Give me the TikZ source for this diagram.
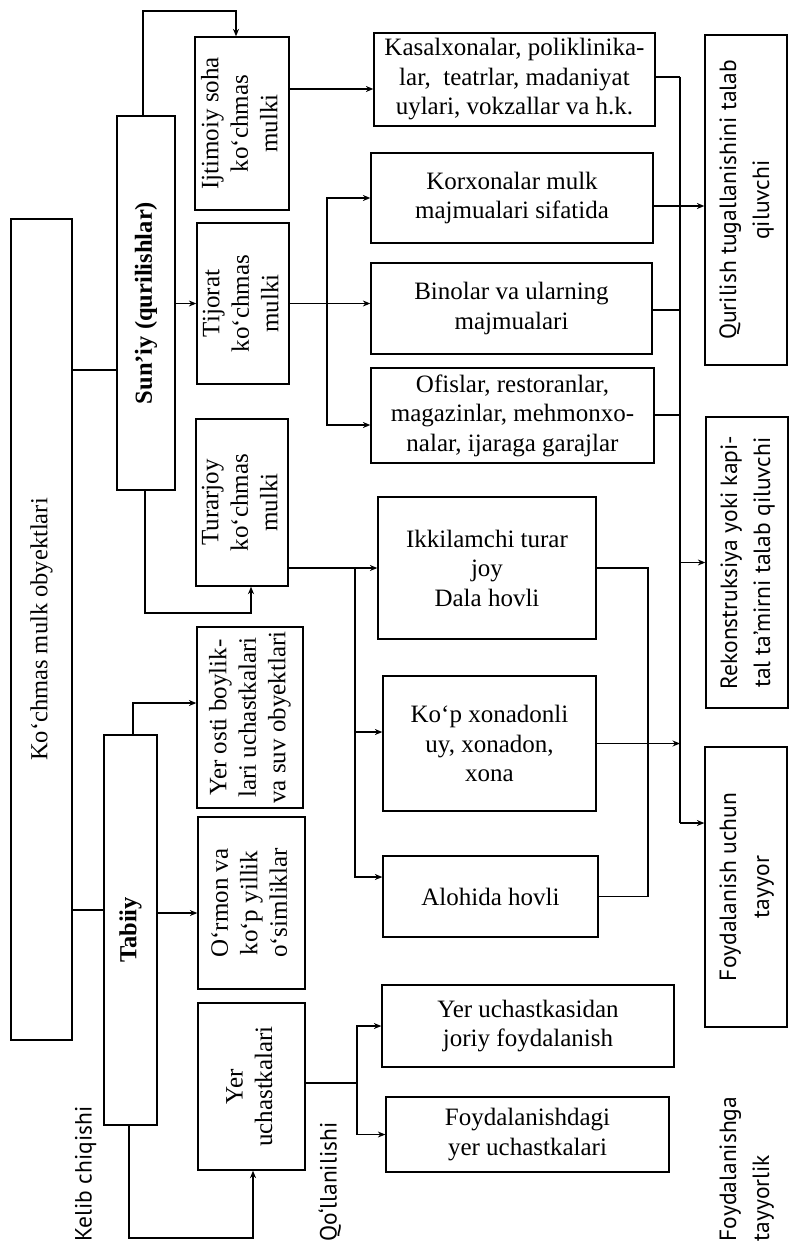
\documentclass[tikz,border=0pt]{standalone}
\usepackage{graphicx}
\usepackage{fontspec}
\setmainfont{Liberation Serif}
\newfontfamily\labfont{PT Sans}
\usetikzlibrary{arrows.meta}
\newcommand{\vt}[1]{\rotatebox{90}{\begin{tabular}{@{}c@{}}#1\end{tabular}}}
\newcommand{\vtl}[1]{\rotatebox{90}{\begin{tabular}{@{}l@{}}#1\end{tabular}}}
\tikzset{
  box/.style={draw, line width=1.3pt, inner sep=0pt, align=center, font=\fontsize{25}{29.5}\selectfont},
  tbox/.style={box, line width=2.6pt},
  sbox/.style={box, font={\labfont\fontsize{23.5}{33}\selectfont}},
  lab/.style={inner sep=0pt, font={\labfont\fontsize{23.5}{33}\selectfont}},
  arr/.style={line width=1.1pt, -{Stealth[length=7.5pt,width=6pt]}},
  ln/.style={line width=1.1pt}
}
\begin{document}
\begin{tikzpicture}[x=1pt,y=-1pt]
\useasboundingbox (0,0) rectangle (789,1244);
% left column
\node[tbox, minimum width=61pt, minimum height=821pt] (main) at (41.5,629.5) {\vt{\fontsize{24.5}{29}\selectfont Ko‘chmas mulk obyektlari}};
\node[tbox, minimum width=58pt, minimum height=374pt] (sun) at (146,303) {\vt{\fontsize{24.5}{29}\selectfont\bfseries Sun’iy (qurilishlar)}};
\node[tbox, minimum width=53pt, minimum height=390pt] (tab) at (130.5,930) {\vt{\fontsize{24.5}{29}\selectfont\bfseries Tabiiy}};
% second column
\node[box, minimum width=94pt, minimum height=173pt] (ijt) at (242,123.5) {\vt{Ijtimoiy soha\\ko‘chmas\\mulki}};
\node[box, minimum width=92pt, minimum height=161pt] (tij) at (243,303.5) {\vt{Tijorat\\ko‘chmas\\mulki}};
\node[box, minimum width=92pt, minimum height=167pt] (tur) at (242,502.5) {\vt{Turarjoy\\ko‘chmas\\mulki}};
\node[box, minimum width=106pt, minimum height=181pt] (yos) at (250,717.5) {\vt{Yer osti boylik-\\lari uchastkalari\\va suv obyektlari}};
\node[box, minimum width=107pt, minimum height=172pt] (orm) at (251.5,903) {\vt{O‘rmon va\\ko‘p yillik\\o‘simliklar}};
\node[box, minimum width=107pt, minimum height=167pt] (yer) at (251.5,1086.5) {\vt{Yer\\uchastkalari}};
% third column
\node[box, minimum width=281pt, minimum height=93pt] (kas) at (514.5,79.5) {Kasalxonalar, poliklinika-\\lar, \ teatrlar, madaniyat\\uylari, vokzallar va h.k.};
\node[box, minimum width=282pt, minimum height=90pt] (kor) at (512,198) {Korxonalar mulk\\majmualari sifatida};
\node[box, minimum width=281pt, minimum height=91pt] (bin) at (511.5,308.5) {Binolar va ularning\\majmualari};
\node[box, minimum width=283pt, minimum height=95pt] (ofi) at (512.5,415.5) {Ofislar, restoranlar,\\magazinlar, mehmonxo-\\nalar, ijaraga garajlar};
\node[box, minimum width=218pt, minimum height=142pt] (ikk) at (487,568) {Ikkilamchi turar\\joy\\Dala hovli};
\node[box, minimum width=213pt, minimum height=135pt] (kop) at (489.5,743.5) {Ko‘p xonadonli\\uy, xonadon,\\xona};
\node[box, minimum width=215pt, minimum height=81pt] (alo) at (490.5,896.5) {Alohida hovli};
\node[box, minimum width=292pt, minimum height=82pt] (yuc) at (528,1026) {Yer uchastkasidan\\joriy foydalanish};
\node[box, minimum width=283pt, minimum height=75pt] (fdg) at (527.5,1134.5) {Foydalanishdagi\\yer uchastkalari};
% right column
\node[sbox, minimum width=82pt, minimum height=330pt] (qur) at (746,200) {\vt{Qurilish tugallanishini talab\\qiluvchi}};
\node[sbox, minimum width=82pt, minimum height=291pt] (rek) at (747,562.5) {\vt{Rekonstruksiya yoki kapi-\\tal ta’mirni talab qiluvchi}};
\node[sbox, minimum width=82pt, minimum height=280pt] (fut) at (746,887) {\vt{Foydalanish uchun\\tayyor}};
% labels
\node[lab] (kel) at (85,1174) {\vt{Kelib chiqishi}};
\node[lab] (qol) at (330,1182) {\vt{Qo‘llanilishi}};
\node[lab] (fgt) at (746,1169) {\vtl{Foydalanishga\\tayyorlik}};
% helper coordinates
\coordinate (ya) at (0,11);
\coordinate (yb) at (0,613);
\coordinate (yc) at (0,370);
\coordinate (yd) at (0,910);
\coordinate (ye) at (0,703);
\coordinate (yf) at (0,913);
\coordinate (yg) at (0,1238);
\coordinate (yh) at (0,89);
\coordinate (yi) at (0,425);
\coordinate (yj) at (0,732);
\coordinate (yk) at (0,877);
\coordinate (yl) at (0,1083);
\coordinate (y77) at (0,77);
\coordinate (y206) at (0,206);
\coordinate (y310) at (0,310);
\coordinate (y415) at (0,415);
\coordinate (y823) at (0,823);
\coordinate (tx) at (327,0);
\coordinate (ux) at (355,0);
\coordinate (vx) at (357,0);
\coordinate (wx) at (680,0);
\coordinate (zx) at (648,0);
% connectors, left part
\draw[ln] (main.east |- yc) -- (sun.west |- yc);
\draw[ln] (main.east |- yd) -- (tab.west |- yd);
\draw[arr] ([xshift=-3pt]sun.north) -- ([xshift=-3pt]sun.north |- ya) -| ([xshift=-6pt]ijt.north);
\draw[arr] (sun.east |- tij.west) -- (tij.west);
\draw[arr] ([xshift=-1pt]sun.south) -- ([xshift=-1pt]sun.south |- yb) -| ([xshift=9pt]tur.south);
\draw[arr] ([xshift=2.5pt]tab.north) |- (yos.west |- ye);
\draw[arr] (tab.east |- yf) -- (orm.west |- yf);
\draw[arr] ([xshift=-1.5pt]tab.south) -- ([xshift=-1.5pt]tab.south |- yg) -| ([xshift=1.5pt]yer.south);
% second to third column
\draw[arr] (ijt.east |- yh) -- (kas.west |- yh);
\draw[ln] (tij.east) -- (tij.east -| tx);
\draw[arr] (tij.east -| tx) |- (kor.west);
\draw[arr] (tij.east) -- (bin.west |- tij.east);
\draw[arr] (tij.east -| tx) |- (ofi.west |- yi);
\draw[arr] (tur.east |- ikk.west) -- (ikk.west);
\draw[arr] (ikk.west -| ux) |- (kop.west |- yj);
\draw[arr] (ikk.west -| ux) |- (alo.west |- yk);
\draw[ln] (yer.east |- yl) -- (vx |- yl);
\draw[arr] (vx |- yl) |- (yuc.west);
\draw[arr] (vx |- yl) |- (fdg.west);
% third to right column
\draw[ln] (wx |- y77) -- (wx |- y823);
\draw[ln] (kas.east |- y77) -- (wx |- y77);
\draw[arr] (kor.east |- y206) -- (qur.west |- y206);
\draw[ln] (bin.east |- y310) -- (wx |- y310);
\draw[ln] (ofi.east |- y415) -- (wx |- y415);
\draw[arr] (wx |- rek.west) -- (rek.west);
\draw[arr] (kop.east) -- (wx |- kop.east);
\draw[arr] (wx |- y823) -- (fut.west |- y823);
\draw[ln] (ikk.east) -| (zx |- alo.east) -- (alo.east);
\end{tikzpicture}
\end{document}
